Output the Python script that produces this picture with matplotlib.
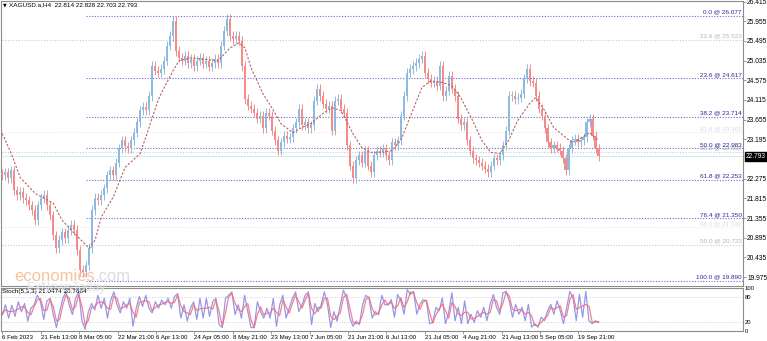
import numpy as np
import pandas as pd
import matplotlib
matplotlib.use("Agg")
import matplotlib.pyplot as plt
import matplotlib.transforms as mtransforms

plt.rcParams['font.family'] = ['Liberation Sans', 'DejaVu Sans']

# --- data ---
header = "XAGUSD.a,H4  22.814 22.828 22.703 22.793"
stoch_title = "Stoch(5,3,3) 21.0474 20.7684"
last_price = 22.793

# H4 closes (one value per ~3 px of the original chart)
closes = [
    22.35, 22.42, 22.28, 22.47, 22.00, 21.89, 21.96, 21.82, 21.77, 21.65,
    21.54, 21.30, 21.65, 21.82, 21.89, 21.65, 21.42, 20.95, 20.65, 20.84,
    21.02, 20.88, 21.07, 21.19, 21.07, 20.60, 20.14, 20.09, 20.25, 20.65,
    21.54, 21.82, 21.77, 21.89, 22.05, 22.35, 22.47, 22.35, 22.65, 22.98,
    23.17, 23.03, 22.98, 23.17, 23.35, 23.59, 23.87, 23.96, 23.87, 24.21,
    24.91, 24.80, 24.75, 24.84, 25.03, 25.38, 25.61, 25.96, 25.26, 25.10,
    25.03, 25.15, 24.98, 25.08, 24.91, 25.03, 25.10, 24.96, 25.03, 24.89,
    24.98, 25.08, 24.98, 25.38, 25.73, 26.01, 25.61, 25.54, 25.61, 25.50,
    24.91, 24.14, 23.98, 23.91, 23.82, 23.68, 23.75, 23.45, 23.82, 23.75,
    23.40, 23.17, 22.93, 23.12, 23.28, 23.21, 23.24, 23.45, 23.59, 23.91,
    23.52, 23.59, 23.45, 23.52, 24.10, 24.38, 24.21, 24.03, 23.91, 23.98,
    23.40, 24.10, 24.14, 23.91, 23.82, 23.05, 22.58, 22.28, 22.70, 22.82,
    22.65, 22.93, 22.58, 22.42, 22.82, 22.93, 22.89, 22.98, 22.82, 22.70,
    23.12, 23.05, 23.17, 23.75, 24.21, 24.75, 24.84, 24.91, 24.98, 25.08,
    25.15, 24.75, 24.61, 24.52, 24.56, 24.45, 24.91, 24.21, 24.33, 24.68,
    24.38, 24.21, 23.68, 23.52, 23.59, 23.17, 22.93, 22.75, 22.70, 22.65,
    22.58, 22.51, 22.42, 22.58, 22.75, 22.70, 22.82, 23.05, 23.40, 24.21,
    24.21, 24.14, 24.17, 24.26, 24.61, 24.84, 24.56, 24.52, 24.21, 23.91,
    23.75, 23.45, 23.12, 22.98, 23.05, 23.00, 22.93, 22.75, 22.47, 22.98,
    23.17, 23.21, 23.12, 23.17, 23.24, 23.59, 23.68, 23.28, 22.98, 22.793,
]

# moving average (bar index, price)
ma_bars = [0, 3, 6, 11, 17, 20, 24, 29, 31, 33, 37, 41, 46, 49, 50, 52, 53, 57,
           59, 63, 72, 76, 79, 81, 83, 87, 90, 93, 97, 100, 103, 107, 110, 113,
           117, 120, 123, 127, 130, 133, 137, 140, 143, 147, 150, 153, 157, 160,
           163, 166, 169, 172, 176, 178, 181, 184, 188, 190, 192, 196, 199]
ma_values = [23.33, 22.86, 22.30, 21.93, 21.70, 21.30, 21.00, 20.65, 20.84, 21.37,
             21.84, 22.54, 22.86, 23.47, 23.70, 24.10, 24.26, 24.80, 25.03, 25.10,
             25.03, 25.33, 25.45, 25.33, 24.87, 24.26, 23.93, 23.56, 23.35, 23.47,
             23.56, 23.80, 23.93, 23.87, 23.33, 23.00, 22.89, 22.89, 22.93, 23.17,
             23.87, 24.40, 24.56, 24.52, 24.45, 24.17, 23.63, 23.17, 22.89, 22.86,
             23.17, 23.63, 24.03, 24.17, 23.87, 23.47, 23.24, 23.12, 23.17, 23.35,
             23.17]

# stochastic main line
stoch_main = [
    38, 61, 30, 60, 34, 68, 45, 64, 23, 53, 61, 83, 68, 27, 70, 76, 38, 8, 45, 76,
    91, 61, 38, 76, 91, 23, 4, 45, 64, 49, 83, 53, 76, 30, 72, 91, 61, 42, 68, 53,
    76, 11, 53, 80, 57, 83, 53, 42, 68, 53, 72, 61, 76, 53, 80, 87, 30, 61, 23, 53,
    68, 27, 76, 30,
    76, 34, 68, 76, 15, 8, 76, 83, 91, 38, 61, 30, 83, 45, 8, 8, 68, 45, 30, 53,
    30, 76, 11, 61, 83, 30, 53, 76, 91, 45, 61, 83, 91, 15, 64, 45, 61, 91, 61, 8,
    45, 23, 61, 95, 76, 30, 11, 23, 15, 61, 83, 76, 30, 45, 38, 83, 61, 61,
    73, 32, 85, 70, 39, 96, 85, 92, 39, 62, 73, 70, 17, 20, 55, 47, 77, 17, 43, 89,
    24, 55, 17, 70, 17, 39, 20, 47, 32, 55, 24, 62, 85, 55, 39, 89, 92, 70, 32, 62,
    39, 55, 24, 62, 9, 17, 9, 32, 24, 47, 62, 39, 70, 47, 17, 55, 92, 77, 24, 85,
    32, 92, 24, 17, 24, 20,
]

fib_blue = [26.077, 24.617, 23.714, 22.983, 22.253, 21.350, 19.890]
fib_blue_pct = ["0.0", "23.6", "38.2", "50.0", "61.8", "76.4", "100.0"]
fib_grey = [25.523, 22.899, 20.723]
fib_grey_pct = ["23.6", "38.2", "50.0"]
fib_faint = [23.362, 21.142]
fib_faint_pct = ["61.8", "38.2"]

price_ticks = [26.415, 25.955, 25.495, 25.035, 24.575, 24.115, 23.655, 23.195,
               22.275, 21.815, 21.355, 20.895, 20.435, 19.975]
date_labels = ["6 Feb 2023", "21 Feb 13:00", "8 Mar 05:00", "22 Mar 21:00",
               "6 Apr 13:00", "24 Apr 05:00", "8 May 21:00", "23 May 13:00",
               "7 Jun 05:00", "21 Jun 21:00", "6 Jul 13:00", "21 Jul 05:00",
               "4 Aug 21:00", "21 Aug 13:00", "5 Sep 05:00", "19 Sep 21:00"]

# --- figure ---
fig = plt.figure(figsize=(7.67, 3.41), dpi=100)
ax = fig.add_axes([0.001, 0.1613, 0.9677, 0.8358])
ax2 = fig.add_axes([0.001, 0.0293, 0.9677, 0.1261])

xmax = 247.2
fib_start = 28
frame_col = '#8c8c8c'

# candles
idx = np.arange(len(closes))
cl = np.array(closes)
op = np.concatenate([[cl[0] + 0.05], cl[:-1]])
up = cl >= op
colors = np.where(up, '#8fbadf', '#f48a8a')
body = np.where(np.abs(cl - op) < 0.01, 0.01, cl - op)
wick = 0.11
ax.vlines(idx, np.minimum(op, cl) - wick, np.maximum(op, cl) + wick,
          colors=colors, linewidth=0.7, zorder=3)
ax.bar(idx, body, bottom=op, width=0.75, color=colors, linewidth=0, zorder=3)

# moving average
ax.plot(ma_bars, ma_values, color='#b86060', linewidth=0.8,
        linestyle=(0, (2, 1.5)), zorder=4)

# fibonacci levels
trans = mtransforms.blended_transform_factory(ax.transAxes, ax.transData)
for lvl, pct in zip(fib_grey, fib_grey_pct):
    ax.hlines(lvl, -1, xmax, colors='#c8c8c8', linewidth=0.8,
              linestyles=(0, (1, 1.5)), zorder=2)
    ax.text(0.998, lvl + 0.03, f"{pct} @ {lvl:.3f}", transform=trans,
            ha='right', va='bottom', fontsize=4.6, color='#b4b4b4', zorder=5)
for lvl, pct in zip(fib_faint, fib_faint_pct):
    ax.hlines(lvl, -1, xmax, colors='#e6e6f0', linewidth=0.8,
              linestyles=(0, (1, 1.5)), zorder=2)
    ax.text(0.998, lvl + 0.03, f"{pct} @ {lvl:.3f}", transform=trans,
            ha='right', va='bottom', fontsize=4.6, color='#d8d8e6', zorder=5)
for lvl, pct in zip(fib_blue, fib_blue_pct):
    ax.hlines(lvl, fib_start, xmax, colors='#6a6ad2', linewidth=0.8,
              linestyles=(0, (1, 1.5)), zorder=2)
    ax.text(0.998, lvl + 0.03, f"{pct} @ {lvl:.3f}", transform=trans,
            ha='right', va='bottom', fontsize=4.6, color='#2a2a9a', zorder=5)

# current price line and box
ax.axhline(last_price, color='#cfeef4', linewidth=0.8, zorder=1)
ax.text(1.004, last_price, f"{last_price:.3f}", transform=trans, ha='left',
        va='center', fontsize=4.8, color='white', clip_on=False, zorder=10,
        bbox=dict(boxstyle='square,pad=0.15', fc='black', ec='black'))

ax.set_xlim(-0.5, xmax)
ax.set_ylim(19.766, 26.427)
ax.yaxis.tick_right()
ax.set_yticks(price_ticks)
ax.set_yticklabels([f"{t:.3f}" for t in price_ticks])
ax.tick_params(axis='y', labelsize=4.8, length=2, width=0.6, pad=1,
               color=frame_col)
ax.set_xticks([])
for s in ax.spines.values():
    s.set_color(frame_col)
    s.set_linewidth(0.8)

# stochastic panel
sx = np.linspace(0, len(closes) - 1, len(stoch_main))
sig = pd.Series(stoch_main).rolling(2, min_periods=1).mean()
ax2.axhline(80, color='#d0d0d0', linewidth=0.7, linestyle=(0, (1, 1.5)))
ax2.axhline(20, color='#d0d0d0', linewidth=0.7, linestyle=(0, (1, 1.5)))
ax2.plot(sx, stoch_main, color='#8c8ce6', linewidth=0.9, alpha=0.9)
ax2.plot(sx, sig, color='#f26a7a', linewidth=0.9, alpha=0.85)
ax2.set_xlim(-0.5, xmax)
ax2.set_ylim(0, 100)
ax2.yaxis.tick_right()
ax2.set_yticks([0, 20, 80, 100])
ax2.set_yticklabels(["0", "20", "80", "100"])
ax2.tick_params(axis='y', labelsize=4.2, length=0, pad=1)
tick_pos = np.arange(len(date_labels)) * 12.82
ax2.set_xticks(tick_pos)
ax2.set_xticklabels(date_labels, ha='left')
ax2.tick_params(axis='x', labelsize=4.4, length=2, width=0.6, pad=1,
                color=frame_col)
for s in ax2.spines.values():
    s.set_color(frame_col)
    s.set_linewidth(0.8)

# texts
fig.text(3 / 767, 1 - 5 / 341, "\u25bc", fontsize=3.5, va='center',
         family='DejaVu Sans')
fig.text(9 / 767, 1 - 5 / 341, header, fontsize=4.6, va='center')
fig.text(2 / 767, 1 - 292 / 341, stoch_title, fontsize=4.6, va='center')

# watermark
wm = fig.text(14 / 767, 1 - 281 / 341, "economies", fontsize=12,
              color='#f6c49c', va='baseline', zorder=20)
ax.annotate(".com", xy=(1, 0), xycoords=wm, va='bottom', ha='left',
            fontsize=12, color='#dcdcdc', annotation_clip=False, zorder=20)
fig.text(27 / 767, 1 - 291 / 341, "FxNewsToday", fontsize=9,
         color='#e2e2e2', va='baseline', zorder=20)

fig.savefig("out.png", dpi=100)
